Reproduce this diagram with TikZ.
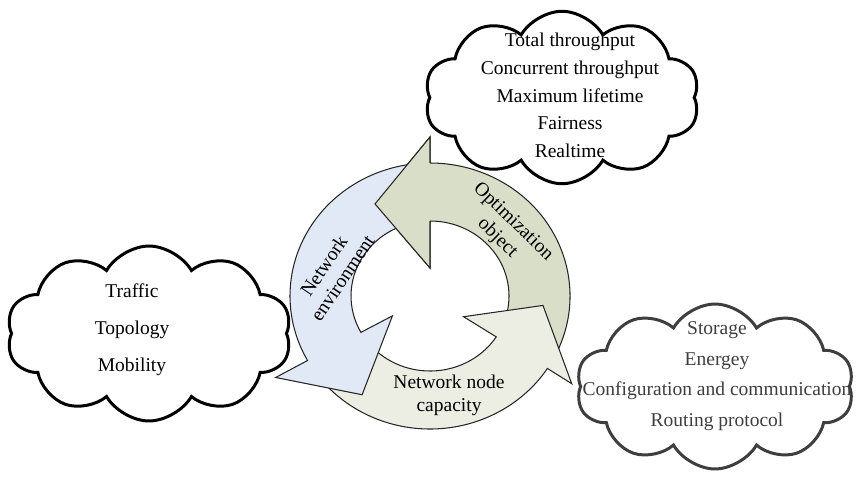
\documentclass[tikz,border=0pt]{standalone}
\usepackage{fontspec}
\setmainfont{Liberation Serif}
\usepackage{xcolor}
\usepackage{tikz}
\usetikzlibrary{shapes.symbols}
\definecolor{envblue}{RGB}{226, 233, 246}
\definecolor{optgreen}{RGB}{216, 222, 199}
\definecolor{capgray}{RGB}{236, 238, 228}
\definecolor{cloudgray}{RGB}{62, 62, 62}

\begin{document}
\begin{tikzpicture}[
    x=0.02cm, y=0.02cm,
    ringarrow/.style={draw=black!85, line width=0.6pt, line join=miter},
    ringtext/.style={font=\fontsize{11.1}{12.8}\selectfont, align=center, inner sep=0pt},
    cloudbox/.style={cloud, cloud puffs=10, cloud puff arc=120, draw=black, line width=1.7pt, fill=white, inner sep=0pt},
    cloudtext/.style={align=center, inner sep=0pt}
]
    \useasboundingbox (0,0) rectangle (861,-481);

    % the three arrows of the cycle
    \begin{scope}[shift={(430,-296)}]
        \draw[ringarrow, fill=optgreen] (-28:140 and 133) arc[start angle=-28, end angle=90, x radius=140, y radius=133]
            -- (90:167 and 159) -- (119.7:111 and 106) -- (90:29 and 28) -- (90:79 and 75)
            arc[start angle=90, end angle=-28, x radius=79, y radius=75] -- cycle;
        \draw[ringarrow, fill=capgray] (215:140 and 133) arc[start angle=215, end angle=327, x radius=140, y radius=133]
            -- (327:169 and 161) -- (355:113.4 and 108) -- (327:40 and 38) -- (327:79 and 75)
            arc[start angle=327, end angle=215, x radius=79, y radius=75] -- cycle;
        \draw[ringarrow, fill=envblue] (95:140 and 133) arc[start angle=95, end angle=209, x radius=140, y radius=133]
            -- (209:176.4 and 168) -- (236.8:124 and 118) -- (209:43 and 41) -- (209:79 and 75)
            arc[start angle=209, end angle=95, x radius=79, y radius=75] -- cycle;
        % head of the green arrow lies over the tail of the blue one
        \fill[optgreen] (90:167 and 159) -- (119.7:111 and 106) -- (90:29 and 28) -- cycle;
        \draw[ringarrow] (90:140 and 133) -- (90:167 and 159) -- (119.7:111 and 106) -- (90:29 and 28) -- (90:79 and 75);
    \end{scope}

    \node[ringtext, rotate=56] (envlabel) at (333,-272) {Network\\environment};
    \node[ringtext, rotate=-44] (optlabel) at (505,-230) {Optimization\\object};
    \node[ringtext] (caplabel) at (449,-395.5) {Network node\\capacity};

    % clouds
    \node[cloudbox, minimum width=5.5cm, minimum height=3.45cm] (objcloud) at (562,-97.5) {};
    \node[cloudtext, font=\fontsize{11.1}{15.8}\selectfont] (objlist) at (570,-95.5)
        {Total throughput\\Concurrent throughput\\Maximum lifetime\\Fairness\\Realtime};

    \node[cloudbox, minimum width=5.7cm, minimum height=3.5cm] (envcloud) at (149,-333.5) {};
    \node[cloudtext, font=\fontsize{11.1}{21}\selectfont] (envlist) at (132,-330)
        {Traffic\\Topology\\Mobility};

    \node[cloudbox, draw=cloudgray, minimum width=5.55cm, minimum height=3.3cm] (capcloud) at (715,-386.5) {};
    \node[cloudtext, text=cloudgray, font=\fontsize{11.1}{17.4}\selectfont] (caplist) at (717,-376)
        {Storage\\Energey\\Configuration and communication\\Routing protocol};
\end{tikzpicture}
\end{document}
